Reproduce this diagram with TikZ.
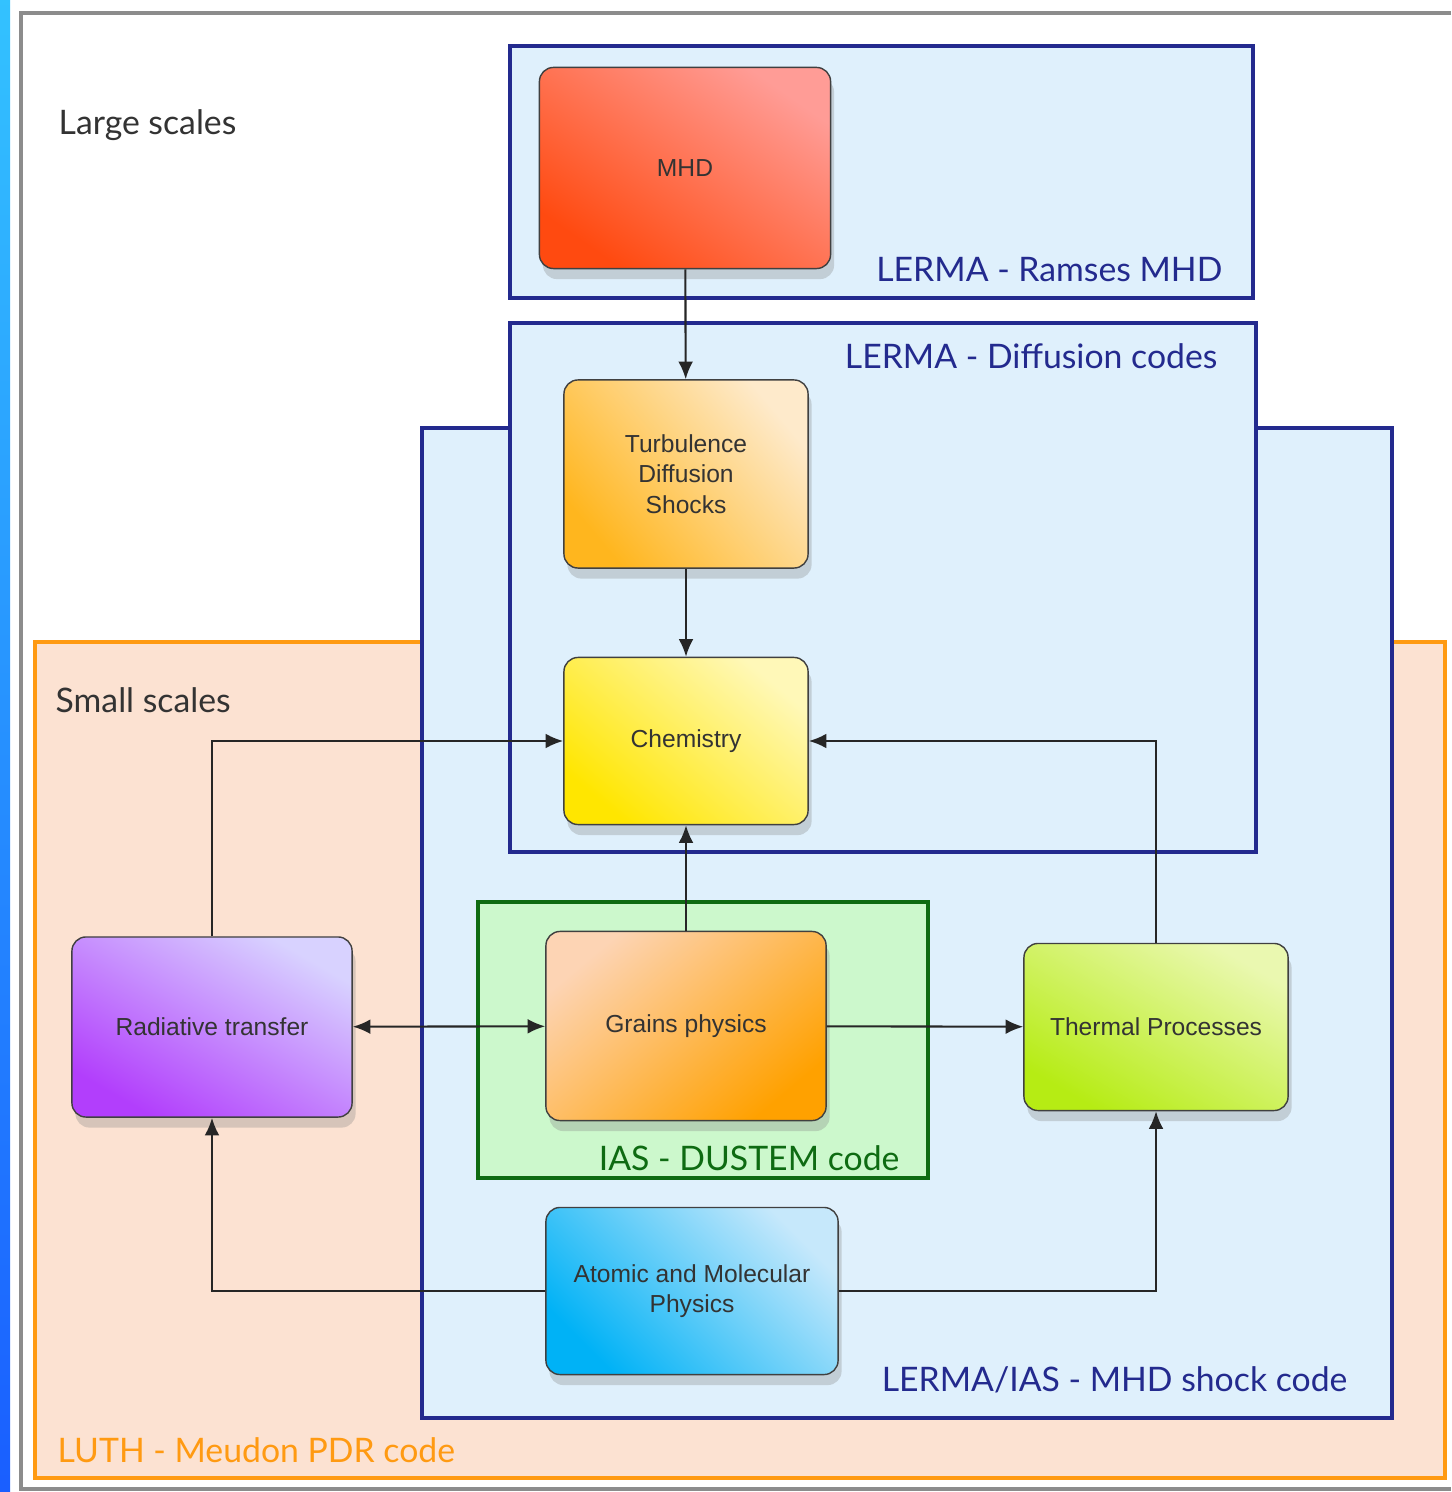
\documentclass[tikz,border=0pt]{standalone}
\usepackage{fontspec}
\setsansfont{Liberation Sans}
\newfontfamily\zonefont{Lato}
\usetikzlibrary{shadows, arrows.meta}
\definecolor{zone-navy}{HTML}{232A8E}
\definecolor{zone-sky}{HTML}{DFF0FC}
\definecolor{luth-orange}{HTML}{FF9A12}
\definecolor{luth-peach}{HTML}{FCE2D2}
\definecolor{dust-green}{HTML}{0E6B12}
\definecolor{dust-mint}{HTML}{CCF8CC}
\definecolor{frame-gray}{HTML}{8C8C8C}
\definecolor{mhd-light}{HTML}{FF9C96}
\definecolor{mhd-dark}{HTML}{FF4A10}
\definecolor{turb-light}{HTML}{FEEACB}
\definecolor{turb-dark}{HTML}{FFB61E}
\definecolor{chem-light}{HTML}{FFF8B8}
\definecolor{chem-dark}{HTML}{FFE600}
\definecolor{grain-light}{HTML}{FDD4B4}
\definecolor{grain-dark}{HTML}{FFA100}
\definecolor{rad-light}{HTML}{D8D2FF}
\definecolor{rad-dark}{HTML}{B23EFC}
\definecolor{therm-light}{HTML}{EAF8B0}
\definecolor{therm-dark}{HTML}{B6EC14}
\definecolor{atom-light}{HTML}{C6E8FB}
\definecolor{atom-dark}{HTML}{00B2F6}

\begin{document}
\begin{tikzpicture}[x=0.01cm, y=-0.01cm, >={Latex[length=5pt, width=4.2pt]},
      every node/.style={font=\sffamily\fontsize{7}{8.6}\selectfont, text=black!80},
      proc/.style={draw=black!75, rounded corners=4pt, align=center,
        drop shadow={opacity=0.3, shadow xshift=1pt, shadow yshift=-3pt}},
      zone/.style={line width=1.3pt},
      tag/.style={font=\zonefont\fontsize{9.6}{11}\selectfont, inner sep=0pt},
      link/.style={->, draw=black!85, line width=0.6pt}]
    \useasboundingbox (0,0) rectangle (1451,1492);
    \shade[top color=cyan!70!blue!80, bottom color=blue!70!cyan!90] (0,0) rectangle (10,1492);
    \draw[frame-gray, line width=1.4pt] (1451,13) -- (21,13) -- (21,1489) -- (1451,1489);

    \draw[zone, draw=luth-orange, fill=luth-peach] (35,642) rectangle (1445,1478);
    \draw[zone, draw=zone-navy, fill=zone-sky] (422,428) rectangle (1392,1418);
    \draw[zone, draw=zone-navy, fill=zone-sky] (510,323) rectangle (1256,852);
    \draw[zone, draw=zone-navy, fill=zone-sky] (510,46) rectangle (1253,298);
    \draw[zone, draw=dust-green, fill=dust-mint] (478,902) rectangle (928,1178);

    \node[tag, anchor=west, text=black!80] (large) at (58,125) {Large scales};
    \node[tag, anchor=west, text=black!80] (small) at (55,700) {Small scales};
    \node[tag, anchor=east, text=zone-navy] (ramses) at (1223,270) {LERMA - Ramses MHD};
    \node[tag, anchor=east, text=zone-navy] (diffusion) at (1218,356) {LERMA - Diffusion codes};
    \node[tag, anchor=east, text=zone-navy] (shock) at (1348,1380) {LERMA/IAS - MHD shock code};
    \node[tag, anchor=east, text=dust-green] (dustem) at (900,1158) {IAS - DUSTEM code};
    \node[tag, anchor=west, text=luth-orange] (meudon) at (57,1450) {LUTH - Meudon PDR code};

    \node[proc, minimum width=2.91cm, minimum height=2.01cm,
          top color=mhd-light, bottom color=mhd-dark, shading angle=-35] (mhd) at (685,168) {MHD};
    \node[proc, minimum width=2.44cm, minimum height=1.88cm,
          top color=turb-light, bottom color=turb-dark, shading angle=-50] (turb) at (686,474) {Turbulence\\Diffusion\\Shocks};
    \node[proc, minimum width=2.44cm, minimum height=1.67cm,
          top color=chem-light, bottom color=chem-dark, shading angle=-40] (chem) at (686,741) {Chemistry};
    \node[proc, minimum width=2.80cm, minimum height=1.89cm,
          top color=grain-light, bottom color=grain-dark, shading angle=40] (grains) at (686,1026) {Grains physics};
    \node[proc, minimum width=2.80cm, minimum height=1.80cm,
          top color=rad-light, bottom color=rad-dark, shading angle=-30] (radiative) at (212,1027) {Radiative transfer};
    \node[proc, minimum width=2.64cm, minimum height=1.67cm,
          top color=therm-light, bottom color=therm-dark, shading angle=-30] (thermal) at (1156,1027) {Thermal Processes};
    \node[proc, minimum width=2.92cm, minimum height=1.67cm,
          top color=atom-light, bottom color=atom-dark, shading angle=-45] (atomic) at (692,1291) {Atomic and Molecular\\Physics};

    \draw[link] (mhd) -- (turb);
    \draw[link] (turb) -- (chem);
    \draw[link] (grains) -- (chem);
    \draw[link] (radiative.north) |- (chem.west);
    \draw[link] (thermal.north) |- (chem.east);
    \draw[link, <->] (radiative) -- (grains);
    \draw[link] (grains) -- (thermal);
    \draw[link] (atomic.west) -| (radiative.south);
    \draw[link] (atomic.east) -| (thermal.south);
  \end{tikzpicture}
\end{document}
